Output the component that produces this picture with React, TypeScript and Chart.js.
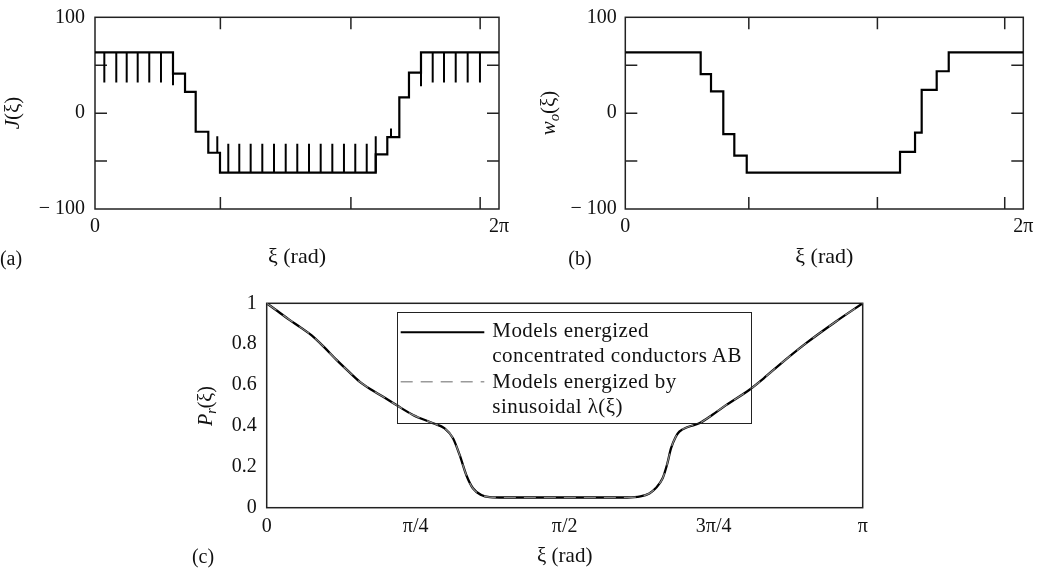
import React, { useEffect, useRef } from 'react';
import { Chart, registerables } from 'chart.js';

Chart.register(...registerables);

const FONT = '"Liberation Serif", "Times New Roman", serif';
const TWO_PI = 2 * Math.PI;

// ---------- (a) J(ξ) : stepped current density ----------
const jStepXi = [0, 1.213, 1.4, 1.566, 1.762, 1.944, 4.366, 4.546, 4.733, 4.883, 5.07, TWO_PI];
const jStepVal = [63.5, 41.2, 22.1, -19.4, -41.3, -62, -43, -25, 16.5, 42.2, 63.5, 63.5];
// conductor marks (vertical strokes)
const jMarkXi = [
  0.145, 0.331, 0.493, 0.664, 0.844, 1.026, 1.213,
  1.902,
  2.073, 2.244, 2.421, 2.602, 2.784, 2.966, 3.146, 3.328, 3.51, 3.691, 3.872, 4.048, 4.226,
  4.366, 4.604,
  5.07, 5.252, 5.428, 5.61, 5.796, 5.987,
];
const jMarkFrom = [
  63.5, 63.5, 63.5, 63.5, 63.5, 63.5, 63.5,
  -41.3,
  -62, -62, -62, -62, -62, -62, -62, -62, -62, -62, -62, -62, -62,
  -62, -25,
  63.5, 63.5, 63.5, 63.5, 63.5, 63.5,
];
const jMarkTo = [
  32, 32, 32, 32, 32, 32, 29,
  -24,
  -32, -32, -32, -32, -32, -32, -32, -32, -32, -32, -32, -32, -32,
  -24, -16,
  28, 32, 32, 32, 32, 32,
];

// ---------- (b) w_o(ξ) ----------
const wStepXi = [0, 1.19, 1.353, 1.547, 1.721, 1.917, 4.337, 4.574, 4.679, 4.916, 5.106, TWO_PI];
const wStepVal = [63.5, 40.8, 22.8, -21.8, -44.4, -62.1, -40.5, -20.4, 24.2, 43.7, 63.5, 63.5];

// shared step-panel axes
const stepXTicks = [0, 1.95, 3.98, 5.99, TWO_PI];
const stepXLabels = ['0', '', '', '', '2π'];
const stepYTicks = [-100, -50, 0, 50, 100];
const stepYLabels = ['− 100', '', '0', '', '100'];

// ---------- (c) P_r(ξ) ----------
const prXi = [
  0, 0.06, 0.12, 0.18, 0.237, 0.3, 0.368, 0.43, 0.491, 0.55, 0.614, 0.684, 0.771, 0.877, 0.938,
  0.982, 1.017, 1.052, 1.087, 1.131, 1.175, 1.25, 1.5, 1.7, 1.9, 1.97, 2.017, 2.05, 2.087, 2.11,
  2.131, 2.155, 2.175, 2.22, 2.28, 2.35, 2.421, 2.543, 2.62, 2.701, 2.842, 2.999, Math.PI,
];
const prConcentrated = [
  1, 0.96, 0.919, 0.881, 0.843, 0.788, 0.723, 0.668, 0.616, 0.578, 0.543, 0.502, 0.454, 0.413, 0.388,
  0.34, 0.258, 0.16, 0.095, 0.062, 0.052, 0.05, 0.05, 0.05, 0.05, 0.055, 0.07, 0.095, 0.144, 0.21,
  0.29, 0.345, 0.372, 0.395, 0.413, 0.455, 0.502, 0.576, 0.633, 0.698, 0.804, 0.91, 1,
];
const prSinusoidal = [
  1, 0.96, 0.919, 0.881, 0.843, 0.788, 0.723, 0.668, 0.616, 0.578, 0.543, 0.502, 0.454, 0.413, 0.388,
  0.34, 0.258, 0.16, 0.095, 0.062, 0.052, 0.05, 0.05, 0.05, 0.05, 0.055, 0.07, 0.095, 0.144, 0.21,
  0.29, 0.345, 0.372, 0.395, 0.413, 0.455, 0.502, 0.576, 0.633, 0.698, 0.804, 0.91, 1,
];
const prXTicks = [0, Math.PI / 4, Math.PI / 2, (3 * Math.PI) / 4, Math.PI];
const prXLabels = ['0', 'π/4', 'π/2', '3π/4', 'π'];
const prYTicks = [0, 0.2, 0.4, 0.6, 0.8, 1];
const prYLabels = ['0', '0.2', '0.4', '0.6', '0.8', '1'];

const legendLabels = [
  ['Models energized', 'concentrated conductors AB'],
  ['Models energized by', 'sinusoidal λ(ξ)'],
];

// ---------- frame + inward ticks plugin ----------
const framePlugin = {
  id: 'frame',
  beforeDatasetsDraw(chart: any, _args: any, opts: any) {
    const { ctx, chartArea: a, scales } = chart;
    ctx.save();
    ctx.strokeStyle = opts.color || '#222';
    ctx.lineWidth = opts.width || 1.5;
    ctx.strokeRect(a.left, a.top, a.right - a.left, a.bottom - a.top);
    const L = opts.tickLen || 0;
    if (L > 0) {
      ctx.beginPath();
      scales.x.ticks.forEach((t: any) => {
        const px = scales.x.getPixelForValue(t.value);
        if (px <= a.left + 1 || px >= a.right - 1) return;
        ctx.moveTo(px, a.bottom);
        ctx.lineTo(px, a.bottom - L);
        ctx.moveTo(px, a.top);
        ctx.lineTo(px, a.top + L);
      });
      scales.y.ticks.forEach((t: any) => {
        const py = scales.y.getPixelForValue(t.value);
        if (py <= a.top + 1 || py >= a.bottom - 1) return;
        ctx.moveTo(a.left, py);
        ctx.lineTo(a.left + L, py);
        ctx.moveTo(a.right, py);
        ctx.lineTo(a.right - L, py);
      });
      ctx.stroke();
    }
    ctx.restore();
  },
};

type AxisSpec = {
  xMin: number; xMax: number; xTicks: number[]; xLabels: string[];
  yMin: number; yMax: number; yTicks: number[]; yLabels: string[];
  fs: number; tfs: number; xHeight: number; yWidth: number; xPad: number; yPad: number; titlePad: number;
};

function makeScales(p: AxisSpec) {
  return {
    x: {
      type: 'linear',
      min: p.xMin,
      max: p.xMax,
      afterBuildTicks: (s: any) => { s.ticks = p.xTicks.map((v) => ({ value: v })); },
      afterFit: (s: any) => { s.height = p.xHeight; s.paddingLeft = 0; s.paddingRight = 0; },
      ticks: {
        autoSkip: false, maxRotation: 0, minRotation: 0, padding: p.xPad, color: '#111',
        font: { family: FONT, size: p.fs },
        callback: (_v: any, i: number) => p.xLabels[i],
      },
      grid: { display: false, drawTicks: false },
      border: { display: false },
      title: {
        display: true, text: 'ξ (rad)', color: '#111',
        font: { family: FONT, size: p.tfs },
        padding: { top: 0, bottom: p.titlePad },
      },
    },
    y: {
      type: 'linear',
      min: p.yMin,
      max: p.yMax,
      afterBuildTicks: (s: any) => { s.ticks = p.yTicks.map((v) => ({ value: v })); },
      afterFit: (s: any) => { s.width = p.yWidth; s.paddingTop = 0; s.paddingBottom = 0; },
      ticks: {
        autoSkip: false, padding: p.yPad, color: '#111',
        font: { family: FONT, size: p.fs },
        callback: (_v: any, i: number) => p.yLabels[i],
      },
      grid: { display: false, drawTicks: false },
      border: { display: false },
    },
  };
}

function ChartCanvas({ left, top, width, height, build }: any) {
  const ref = useRef<HTMLCanvasElement>(null);
  useEffect(() => {
    if (!ref.current) return;
    const chart = new Chart(ref.current, build());
    return () => chart.destroy();
  }, []);
  return (
    <canvas
      ref={ref}
      width={width}
      height={height}
      style={{ position: 'absolute', left, top, width, height }}
    />
  );
}

function stepChart(xs: number[], ys: number[], marks: any[] | null, pad: any, spec: AxisSpec) {
  const datasets: any[] = [
    {
      data: xs.map((x, i) => ({ x, y: ys[i] })),
      stepped: 'before',
      borderColor: '#000',
      borderWidth: 2.2,
      pointRadius: 0,
      fill: false,
      borderJoinStyle: 'miter',
    },
  ];
  if (marks) {
    datasets.push({
      data: marks,
      borderColor: '#000',
      borderWidth: 2,
      pointRadius: 0,
      fill: false,
      spanGaps: false,
    });
  }
  return {
    type: 'line',
    data: { datasets },
    options: {
      responsive: false,
      animation: false,
      events: [],
      layout: { padding: pad },
      plugins: { legend: { display: false }, tooltip: { enabled: false }, frame: { tickLen: 12, width: 1.5, color: '#222' } },
      scales: makeScales(spec),
    },
    plugins: [framePlugin],
  };
}

const jMarks: any[] = [];
jMarkXi.forEach((x, i) => {
  jMarks.push({ x, y: jMarkFrom[i] }, { x, y: jMarkTo[i] }, { x, y: null });
});

const stepSpecBase = {
  xMin: 0, xMax: TWO_PI, xTicks: stepXTicks, xLabels: stepXLabels,
  yMin: -100, yMax: 100, yTicks: stepYTicks, yLabels: stepYLabels,
  fs: 20, tfs: 22, xHeight: 71, xPad: 6, titlePad: 9.8,
};

const buildA = () =>
  stepChart(jStepXi, jStepVal, jMarks, { left: 0, right: 21, top: 17.3, bottom: 0 },
    { ...stepSpecBase, yWidth: 95, yPad: 10 });

const buildB = () =>
  stepChart(wStepXi, wStepVal, null, { left: 0, right: 28.7, top: 17.3, bottom: 0 },
    { ...stepSpecBase, yWidth: 105.3, yPad: 8.6 });

const buildC = () => ({
  type: 'line',
  data: {
    datasets: [
      {
        label: legendLabels[0].join(' '),
        data: prXi.map((x, i) => ({ x, y: prConcentrated[i] })),
        borderColor: '#000',
        borderWidth: 2.3,
        pointRadius: 0,
        fill: false,
        cubicInterpolationMode: 'monotone',
        order: 1,
      },
      {
        label: legendLabels[1].join(' '),
        data: prXi.map((x, i) => ({ x, y: prSinusoidal[i] })),
        borderColor: '#8a8a8a',
        borderWidth: 1.2,
        borderDash: [12, 8],
        pointRadius: 0,
        fill: false,
        cubicInterpolationMode: 'monotone',
        order: 0,
      },
    ],
  },
  options: {
    responsive: false,
    animation: false,
    events: [],
    layout: { padding: { left: 0, right: 27.3, top: 23.3, bottom: 0 } },
    plugins: { legend: { display: false }, tooltip: { enabled: false }, frame: { tickLen: 0, width: 1.5, color: '#222' } },
    scales: makeScales({
      xMin: 0, xMax: Math.PI, xTicks: prXTicks, xLabels: prXLabels,
      yMin: 0, yMax: 1, yTicks: prYTicks, yLabels: prYLabels,
      fs: 20, tfs: 21, xHeight: 62.3, yWidth: 136.7, xPad: 7, yPad: 10, titlePad: 0.7,
    }),
  },
  plugins: [framePlugin],
});

const txt: React.CSSProperties = { position: 'absolute', fontFamily: FONT, color: '#111', whiteSpace: 'nowrap' };
const sub: React.CSSProperties = { fontSize: '0.7em', verticalAlign: '-0.3em', lineHeight: 0 };

function RotTitle({ cx, cy, size, children }: any) {
  return (
    <div
      style={{
        ...txt, left: cx, top: cy, fontSize: size, lineHeight: 1,
        transform: 'translate(-50%, -50%) rotate(-90deg)',
      }}
    >
      {children}
    </div>
  );
}

function Label({ cx, cy, size, children }: any) {
  return (
    <div style={{ ...txt, left: cx, top: cy, fontSize: size, lineHeight: 1, transform: 'translate(-50%, -50%)' }}>
      {children}
    </div>
  );
}

const legendText: React.CSSProperties = { ...txt, fontSize: 21, lineHeight: '25px', letterSpacing: '0.45px' };

export default function App() {
  return (
    <div style={{ position: 'absolute', left: 0, top: 0, width: 1052, height: 570, background: '#fff', overflow: 'hidden' }}>
      <ChartCanvas left={0} top={0} width={520} height={280} build={buildA} />
      <ChartCanvas left={520} top={0} width={532} height={280} build={buildB} />
      <ChartCanvas left={130} top={280} width={760} height={290} build={buildC} />

      <RotTitle cx={12} cy={113} size={21}><i>J</i>(ξ)</RotTitle>
      <RotTitle cx={548} cy={113} size={21}><i>w</i><span style={sub}><i>o</i></span>(ξ)</RotTitle>
      <RotTitle cx={205} cy={406} size={20}><i>P</i><span style={sub}><i>r</i></span>(ξ)</RotTitle>

      <Label cx={11} cy={258} size={20}>(a)</Label>
      <Label cx={580} cy={258} size={20}>(b)</Label>
      <Label cx={203} cy={556} size={20}>(c)</Label>

      {/* legend of panel (c) */}
      <div style={{ position: 'absolute', left: 396.7, top: 312.3, width: 355, height: 111.7, border: '1.5px solid #222', boxSizing: 'border-box' }} />
      <svg style={{ position: 'absolute', left: 0, top: 0, overflow: 'visible' }} width={1} height={1}>
        <line x1={400.7} y1={332.3} x2={484.3} y2={332.3} stroke="#000" strokeWidth={2} />
        <line x1={400.7} y1={381.7} x2={484.3} y2={381.7} stroke="#9a9a9a" strokeWidth={1.6} strokeDasharray="12 8" />
      </svg>
      <div style={{ ...legendText, left: 492.3, top: 317.5 }}>
        {legendLabels[0][0]}<br />{legendLabels[0][1]}
      </div>
      <div style={{ ...legendText, left: 492.3, top: 369.2 }}>
        {legendLabels[1][0]}<br />{legendLabels[1][1]}
      </div>
    </div>
  );
}
